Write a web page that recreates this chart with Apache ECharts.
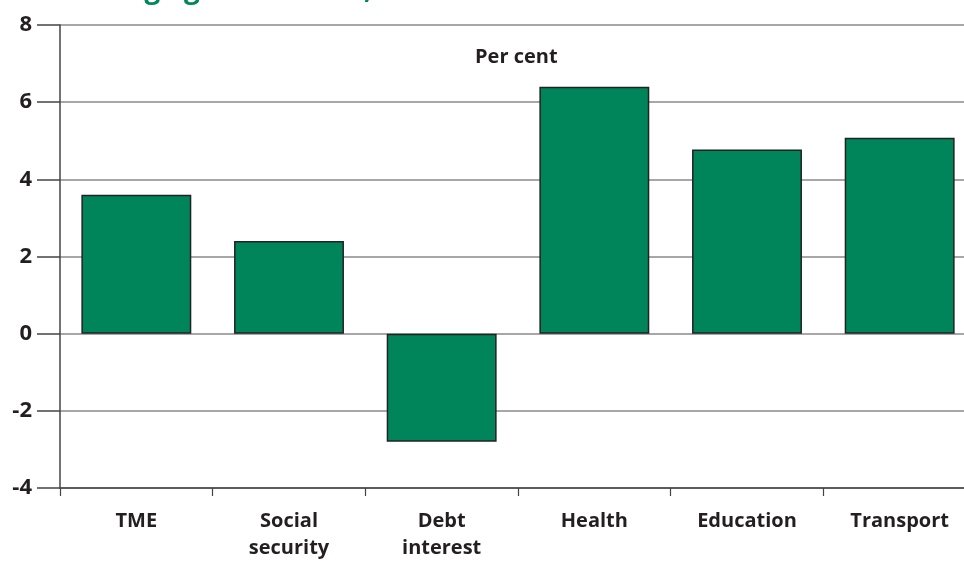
<!DOCTYPE html>
<html>
<head>
<meta charset="utf-8">
<script src="https://cdn.jsdelivr.net/npm/echarts@6/dist/echarts.min.js"></script>
<style>html,body{margin:0;padding:0;background:#fff}#c{width:964px;height:564px}</style>
</head>
<body>
<div id="c"></div>
<script>
const categories = ['TME', 'Social\nsecurity', 'Debt\ninterest', 'Health', 'Education', 'Transport'];
const growthRates = [3.6, 2.4, -2.8, 6.4, 4.77, 5.08];
const yTicks = [-4, -2, 0, 2, 4, 6, 8];
const titleText = 'Average growth rates, 1999-00 to 2007-08';
const unitLabel = 'Per cent';

const FONT = '"Open Sans", Lato, sans-serif';
const chart = echarts.init(document.getElementById('c'));
chart.setOption({
  animation: false,
  backgroundColor: '#fff',
  title: {
    text: titleText,
    left: 58, top: -29,
    textStyle: { fontFamily: FONT, fontSize: 28, fontWeight: 'bold', color: '#00875a' }
  },
  graphic: [{
    type: 'text', left: 475, top: 47,
    style: { text: unitLabel, font: 'bold 20px ' + FONT, fill: '#231f20' }
  }],
  grid: { left: 60, width: 916, top: 25, bottom: 76, containLabel: false, outerBoundsMode: 'none' },
  xAxis: {
    type: 'category',
    data: categories,
    axisLine: { show: true, onZero: false, lineStyle: { color: '#444', width: 1.5 } },
    axisTick: { show: true, length: 8, lineStyle: { color: '#444', width: 1.2 } },
    axisLabel: { margin: 20, fontFamily: FONT, fontSize: 20, fontWeight: 'bold', color: '#231f20', lineHeight: 27, interval: 0 }
  },
  yAxis: {
    type: 'value',
    min: yTicks[0], max: yTicks[yTicks.length - 1], interval: 2,
    axisLine: { show: true, lineStyle: { color: '#444', width: 1.5 } },
    axisTick: { show: true, length: 23, lineStyle: { color: '#444', width: 1.5 } },
    axisLabel: { margin: 28, fontFamily: FONT, fontSize: 22, fontWeight: 'bold', color: '#231f20' },
    splitLine: { show: true, lineStyle: { color: '#8a8a8a', width: 1.5 } }
  },
  series: [{
    type: 'bar',
    data: growthRates,
    barWidth: '72%',
    itemStyle: { color: '#00845a', borderColor: '#222', borderWidth: 1.5 }
  }]
});
</script>
</body>
</html>
